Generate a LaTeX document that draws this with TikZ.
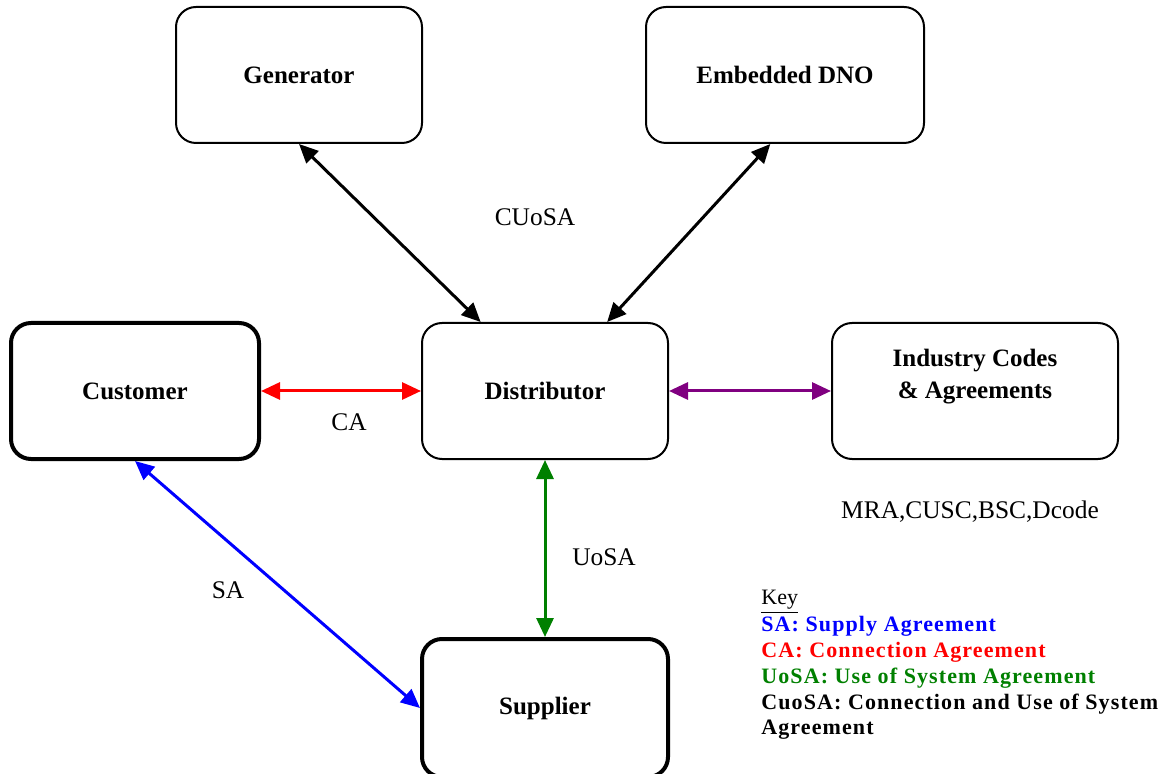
\documentclass[tikz,border=0pt]{standalone}
\usepackage{fontspec}
\setmainfont{Liberation Serif}
\newfontfamily\keyfont[LetterSpace=5]{Liberation Serif}
\usetikzlibrary{arrows.meta}

\definecolor{saBlue}{RGB}{0,0,255}
\definecolor{caRed}{RGB}{255,0,0}
\definecolor{uosaGreen}{RGB}{0,128,0}
\definecolor{codePurple}{RGB}{128,0,128}

\begin{document}
\begin{tikzpicture}[x=0.5pt,y=-0.5pt,
		party/.style={draw, line width=1pt, rounded corners=10pt, minimum height=68pt,
			font=\fontsize{12.5}{16}\selectfont\bfseries, align=center},
		bigparty/.style={party, line width=2pt},
		link/.style={line width=1.5pt, {Triangle[length=9.5pt,width=8.5pt]}-{Triangle[length=9.5pt,width=8.5pt]}},
		lbl/.style={font=\fontsize{12.7}{15}\selectfont},
		keyline/.style={anchor=west, inner sep=0pt, text height=8pt, text depth=2.5pt,
			font=\fontsize{11}{13}\keyfont\bfseries, align=left}]
		\useasboundingbox (0,0) rectangle (1176,774);
		\clip (0,0) rectangle (1176,774);
		
		%% the parties
		\node[party, minimum width=123pt] (gen) at (299,75) {Generator};
		\node[party, minimum width=139pt] (dno) at (785,75) {Embedded DNO};
		\node[bigparty, minimum width=124pt] (cust) at (135,391) {Customer};
		\node[party, minimum width=123pt] (dist) at (545,391) {Distributor};
		\node[party, minimum width=143pt] (codes) at (975,391) {};
		\node[font=\fontsize{12.5}{16}\selectfont\bfseries, align=center] (codestxt) at (975,377) {Industry Codes\\\& Agreements};
		\node[bigparty, minimum width=123pt, minimum height=69pt] (sup) at (545,708) {Supplier};
		
		%% agreements
		\draw[link] (gen.south) -- (dist.133);
		\draw[link] (dno.258) -- (dist.48);
		\draw[link, caRed] (cust.east) -- (dist.west);
		\draw[link, codePurple] (dist.east) -- (codes.west);
		\draw[link, uosaGreen] (dist.south) -- (sup.north);
		\draw[link, saBlue] (cust.south) -- (sup.west);
		
		\node[lbl] (cuosa) at (535,217) {CUoSA};
		\node[lbl] (ca) at (349,422) {CA};
		\node[lbl] (uosa) at (604,557) {UoSA};
		\node[lbl] (sa) at (228,590) {SA};
		\node[lbl] (mra) at (970,512) {MRA,CUSC,BSC,Dcode};
		
		%% key
		\node[keyline, font=\fontsize{11}{13}\selectfont] (key) at (761,599) {\underline{Key}};
		\node[keyline, saBlue] (keysa) at (761,626) {SA: Supply Agreement};
		\node[keyline, caRed] (keyca) at (761,652) {CA: Connection Agreement};
		\node[keyline, uosaGreen] (keyuosa) at (761,678) {UoSA: Use of System Agreement};
		\node[keyline] (keycuosa) at (761,704) {CuoSA: Connection and Use of System};
		\node[keyline] (keycuosa2) at (761,729) {Agreement};
	\end{tikzpicture}
\end{document}
